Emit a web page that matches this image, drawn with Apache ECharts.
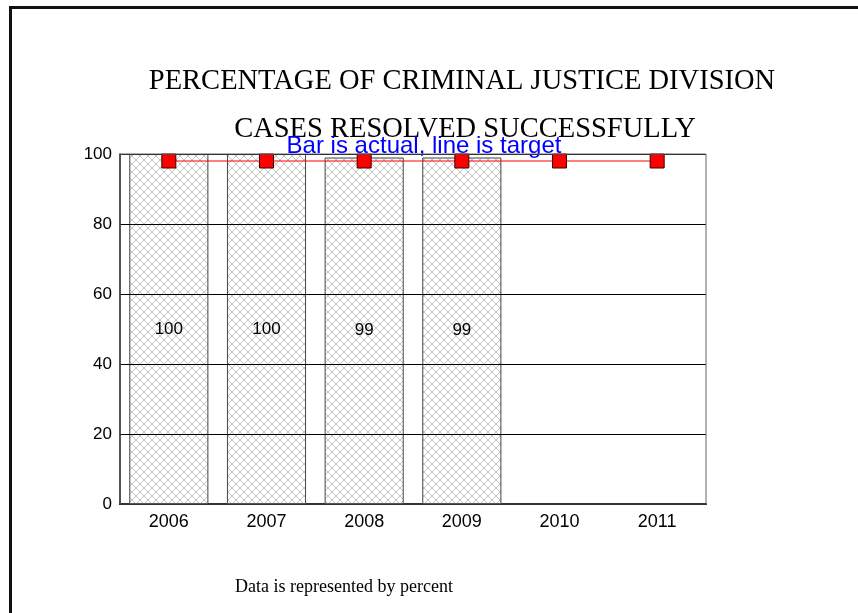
<!DOCTYPE html>
<html>
<head>
<meta charset="utf-8">
<script src="https://cdn.jsdelivr.net/npm/echarts@6/dist/echarts.min.js"></script>
<style>
  html, body { margin: 0; padding: 0; background: #fff; }
  #chart { width: 858px; height: 613px; }
</style>
</head>
<body>
<div id="chart"></div>
<script>
// Fiscal years on the category axis
const years = ['2006', '2007', '2008', '2009', '2010', '2011'];
// Actual percentage of cases resolved (bars); no data yet for 2010-2011
const actual = [100, 100, 99, 99, null, null];
// Target percentage (line)
const target = [98, 98, 98, 98, 98, 98];
// Value axis ticks
const yTicks = [0, 20, 40, 60, 80, 100];

// Cross-hatch fill used for the bars
function hatchPattern() {
  const c = document.createElement('canvas');
  c.width = 8; c.height = 8;
  const g = c.getContext('2d');
  g.fillStyle = '#ffffff';
  g.fillRect(0, 0, 8, 8);
  g.strokeStyle = '#c4c4c4';
  g.lineWidth = 1;
  g.beginPath();
  g.moveTo(0, 0); g.lineTo(8, 8);
  g.moveTo(8, 0); g.lineTo(0, 8);
  g.stroke();
  return c;
}

const chart = echarts.init(document.getElementById('chart'));
chart.setOption({
  animation: false,
  backgroundColor: '#ffffff',
  title: [
    {
      text: 'PERCENTAGE OF CRIMINAL JUSTICE DIVISION',
      left: 457, top: 62, textAlign: 'center',
      textStyle: { fontFamily: 'Liberation Serif', fontSize: 28.5, fontWeight: 'normal', color: '#000' }
    },
    {
      text: 'CASES RESOLVED SUCCESSFULLY',
      left: 460, top: 110, textAlign: 'center',
      textStyle: { fontFamily: 'Liberation Serif', fontSize: 28.5, fontWeight: 'normal', color: '#000' }
    },
    {
      text: 'Bar is actual, line is target',
      left: 419, top: 129, textAlign: 'center',
      textStyle: { fontFamily: 'Liberation Sans', fontSize: 24, fontWeight: 'normal', color: '#0000ff' }
    },
    {
      text: 'Data is represented by percent',
      left: 339, top: 573, textAlign: 'center',
      textStyle: { fontFamily: 'Liberation Serif', fontSize: 18, fontWeight: 'normal', color: '#000' }
    }
  ],
  graphic: [
    {
      type: 'rect',
      shape: { x: 10.5, y: 7.5, width: 1000, height: 1000 },
      style: { fill: 'none', stroke: '#111', lineWidth: 3 },
      silent: true
    },
    {
      type: 'rect',
      shape: { x: 120, y: 154, width: 586, height: 350 },
      style: { fill: 'none', stroke: '#666', lineWidth: 1 },
      z: 10,
      silent: true
    }
  ],
  grid: { left: 120, right: 152, top: 154, height: 350 },
  xAxis: {
    type: 'category',
    data: years,
    axisLine: { show: true, lineStyle: { color: '#000', width: 2 } },
    axisTick: { show: false },
    axisLabel: { fontFamily: 'Liberation Sans', fontSize: 18, color: '#000', margin: 9 },
    splitLine: { show: false }
  },
  yAxis: {
    type: 'value',
    min: 0, max: 100, interval: 20,
    z: 3,
    axisLine: { show: true, lineStyle: { color: '#000', width: 1.5 } },
    axisTick: { show: false },
    axisLabel: {
      fontFamily: 'Liberation Sans', fontSize: 17, color: '#000', margin: 8,
      formatter: v => (yTicks.indexOf(v) >= 0 ? String(v) : '')
    },
    splitLine: { show: true, lineStyle: { color: '#000', width: 1 } }
  },
  series: [
    {
      name: 'Actual',
      type: 'bar',
      data: actual,
      barWidth: '81%',
      z: 1,
      itemStyle: {
        color: { image: hatchPattern(), repeat: 'repeat' },
        borderColor: '#444',
        borderWidth: 1
      },
      label: {
        show: true,
        position: 'inside',
        fontFamily: 'Liberation Sans', fontSize: 17, color: '#000'
      }
    },
    {
      name: 'Target',
      type: 'line',
      data: target,
      z: 5,
      symbol: 'rect',
      symbolSize: 14,
      lineStyle: { color: '#ff0000', width: 1 },
      itemStyle: { color: '#ff0000', borderColor: '#3a0000', borderWidth: 1 }
    }
  ]
});
</script>
</body>
</html>
